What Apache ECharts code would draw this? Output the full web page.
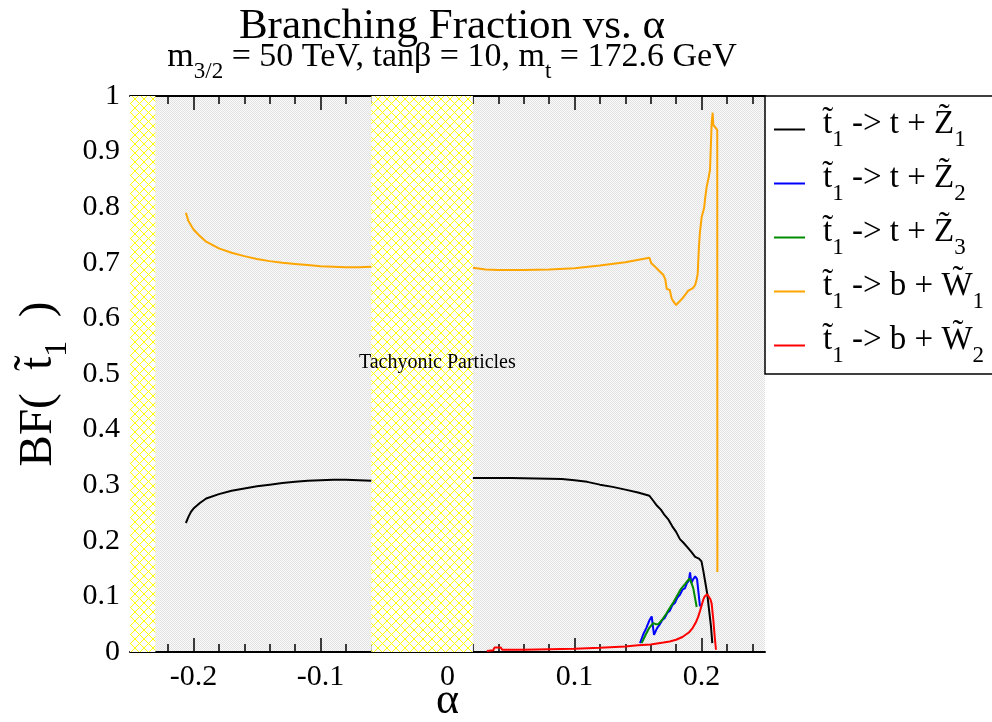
<!DOCTYPE html>
<html>
<head>
<meta charset="utf-8">
<script src="https://cdn.jsdelivr.net/npm/echarts@6/dist/echarts.min.js"></script>
<style>
  html, body { margin: 0; padding: 0; background: #ffffff; }
  #chart { width: 992px; height: 722px; }
</style>
</head>
<body>
<div id="chart"></div>
<script>
// ---- axis ticks ----
const xRange = [-0.25, 0.25];
const xMajorTicks = [-0.2, -0.1, 0, 0.1, 0.2];
const xMinorTicks = [-0.24, -0.22, -0.18, -0.16, -0.14, -0.12, -0.08, -0.06, -0.04, -0.02,
                     0.02, 0.04, 0.06, 0.08, 0.12, 0.14, 0.16, 0.18, 0.22, 0.24];

// ---- alpha ranges with tachyonic particles ----
const tachyonicBands = [[-0.25, -0.23], [-0.06, 0.02]];
const tachyonicLabel = { text: 'Tachyonic Particles', at: [-0.008, 0.52] };

// ---- legend labels: alternating [normal, subscript, normal, subscript] ----
const decayLabels = [
  ['t\u0303', '1', ' -> t + Z\u0303', '1'],
  ['t\u0303', '1', ' -> t + Z\u0303', '2'],
  ['t\u0303', '1', ' -> t + Z\u0303', '3'],
  ['t\u0303', '1', ' -> b + W\u0303', '1'],
  ['t\u0303', '1', ' -> b + W\u0303', '2']
];
const decayColors = ['#000000', '#0000ff', '#008b00', '#ffa500', '#ff0000'];

// ---- branching fractions [alpha, BF] ----
const tZ1Left = [
  [-0.206, 0.232], [-0.204, 0.243], [-0.202, 0.252], [-0.200, 0.258], [-0.195, 0.268],
  [-0.190, 0.276], [-0.180, 0.284], [-0.170, 0.290], [-0.160, 0.294], [-0.150, 0.298],
  [-0.140, 0.301], [-0.130, 0.304], [-0.120, 0.306], [-0.110, 0.308], [-0.100, 0.309],
  [-0.090, 0.310], [-0.080, 0.310], [-0.070, 0.309], [-0.060, 0.308]
];
const tZ1Right = [
  [0.020, 0.313], [0.030, 0.313], [0.050, 0.313], [0.070, 0.312], [0.090, 0.311],
  [0.100, 0.309], [0.110, 0.306], [0.120, 0.301], [0.130, 0.297], [0.140, 0.292],
  [0.150, 0.287], [0.159, 0.281], [0.162, 0.272], [0.165, 0.263], [0.168, 0.256],
  [0.171, 0.246], [0.174, 0.238], [0.177, 0.226], [0.180, 0.216], [0.183, 0.203],
  [0.186, 0.196], [0.189, 0.188], [0.192, 0.180], [0.195, 0.171], [0.198, 0.168],
  [0.200, 0.163], [0.2015, 0.145], [0.203, 0.125], [0.2045, 0.105], [0.206, 0.075],
  [0.2075, 0.045], [0.2085, 0.016]
];
const tZ2 = [
  [0.1516, 0.016], [0.154, 0.031], [0.1565, 0.043], [0.159, 0.057], [0.1608, 0.064],
  [0.1618, 0.045], [0.1626, 0.031], [0.165, 0.043], [0.167, 0.049], [0.169, 0.057],
  [0.171, 0.061], [0.173, 0.070], [0.175, 0.074], [0.177, 0.084], [0.179, 0.088],
  [0.181, 0.098], [0.183, 0.103], [0.185, 0.112], [0.187, 0.115], [0.1885, 0.124],
  [0.190, 0.128], [0.191, 0.143], [0.192, 0.124], [0.1935, 0.131], [0.195, 0.136],
  [0.1965, 0.131], [0.1975, 0.131], [0.1988, 0.082]
];
const tZ3 = [
  [0.1529, 0.016], [0.156, 0.031], [0.159, 0.044], [0.162, 0.052], [0.164, 0.050],
  [0.166, 0.050], [0.169, 0.058], [0.172, 0.068], [0.175, 0.079], [0.178, 0.090],
  [0.181, 0.102], [0.184, 0.114], [0.187, 0.122], [0.1904, 0.132], [0.1915, 0.128],
  [0.1922, 0.126], [0.1935, 0.115], [0.1962, 0.081]
];
const bW1Left = [
  [-0.206, 0.790], [-0.204, 0.775], [-0.200, 0.760], [-0.195, 0.748], [-0.190, 0.738],
  [-0.180, 0.726], [-0.170, 0.718], [-0.160, 0.712], [-0.150, 0.707], [-0.140, 0.703],
  [-0.130, 0.700], [-0.120, 0.698], [-0.110, 0.696], [-0.100, 0.694], [-0.090, 0.693],
  [-0.080, 0.692], [-0.070, 0.692], [-0.060, 0.693]
];
const bW1Right = [
  [0.020, 0.691], [0.030, 0.688], [0.040, 0.687], [0.060, 0.687], [0.080, 0.688],
  [0.100, 0.690], [0.120, 0.695], [0.140, 0.701], [0.159, 0.709], [0.1605, 0.699],
  [0.163, 0.694], [0.166, 0.687], [0.170, 0.678], [0.1715, 0.670], [0.1726, 0.653],
  [0.175, 0.651], [0.1765, 0.636], [0.178, 0.630], [0.180, 0.624], [0.181, 0.624],
  [0.185, 0.636], [0.1896, 0.650], [0.193, 0.654], [0.195, 0.660], [0.196, 0.668],
  [0.197, 0.680], [0.198, 0.730], [0.1988, 0.756], [0.2002, 0.783], [0.202, 0.798],
  [0.203, 0.818], [0.2041, 0.837], [0.2055, 0.852], [0.2067, 0.867], [0.208, 0.951],
  [0.2088, 0.970], [0.2093, 0.948], [0.2124, 0.939], [0.2125, 0.144]
];
const bW2 = [
  [0.031, 0.002], [0.036, 0.003], [0.037, 0.008], [0.042, 0.008], [0.043, 0.004],
  [0.060, 0.004], [0.080, 0.005], [0.100, 0.006], [0.120, 0.0075], [0.140, 0.010],
  [0.150, 0.012], [0.160, 0.0135], [0.170, 0.017], [0.175, 0.019], [0.180, 0.022],
  [0.185, 0.027], [0.190, 0.035], [0.193, 0.043], [0.1955, 0.053], [0.1975, 0.064],
  [0.199, 0.075], [0.2005, 0.087], [0.2014, 0.094], [0.2025, 0.100], [0.2035, 0.103],
  [0.2045, 0.104], [0.2057, 0.102], [0.207, 0.095], [0.208, 0.087], [0.2093, 0.058],
  [0.2105, 0.025], [0.2114, 0.004]
];

const FONT = '"Liberation Serif", "Times New Roman", serif';

// fine grey stipple used as the plot background
function stipple() {
  const c = document.createElement('canvas');
  c.width = 2; c.height = 2;
  const g = c.getContext('2d');
  g.fillStyle = '#fafafa'; g.fillRect(0, 0, 2, 2);
  g.fillStyle = '#e2e2e2'; g.fillRect(0, 0, 1, 1); g.fillRect(1, 1, 1, 1);
  return c;
}
// yellow cross-hatch used for the tachyonic regions
function crossHatch() {
  const n = 9;
  const c = document.createElement('canvas');
  c.width = n; c.height = n;
  const g = c.getContext('2d');
  g.fillStyle = '#ffffff'; g.fillRect(0, 0, n, n);
  g.strokeStyle = '#ffff00'; g.lineWidth = 1;
  g.beginPath();
  g.moveTo(0, 0); g.lineTo(n, n);
  g.moveTo(n, 0); g.lineTo(0, n);
  g.stroke();
  return c;
}

const names = decayLabels.map(p => p.join(''));
function richLabel(parts) {
  return parts.map((p, i) => (i % 2 === 0 ? '{m|' : '{s|') + p + '}').join('');
}

const chart = echarts.init(document.getElementById('chart'), null, { renderer: 'canvas' });

function lineSeries(idx, data) {
  return {
    type: 'line', name: names[idx], data: data,
    showSymbol: false, symbol: 'none', animation: false,
    lineStyle: { color: decayColors[idx], width: 2 },
    itemStyle: { color: decayColors[idx] },
    z: 3
  };
}

const axisLineStyle = { show: true, lineStyle: { color: '#000', width: 2 } };

chart.setOption({
  animation: false,
  backgroundColor: '#ffffff',
  title: {
    left: 447, top: 0, textAlign: 'center',
    text: '{a|Branching Fraction vs. α}',
    textStyle: { rich: { a: { fontFamily: FONT, fontSize: 43, fontWeight: 'normal', color: '#000' } } },
    subtext: '{m|m}{s|3/2}{m| = 50 TeV, tanβ = 10, m}{s|t}{m| = 172.6 GeV}',
    subtextStyle: { rich: {
      m: { fontFamily: FONT, fontSize: 34, color: '#000', padding: [0, 0, 9, 0], verticalAlign: 'bottom' },
      s: { fontFamily: FONT, fontSize: 23, color: '#000', verticalAlign: 'bottom' }
    } },
    itemGap: -8
  },
  legend: {
    data: names, orient: 'vertical',
    left: 765, top: 96,
    padding: [12, 300, 7, 9],
    itemWidth: 31, itemHeight: 2, itemGap: 11, icon: 'rect',
    backgroundColor: '#ffffff', borderColor: '#000', borderWidth: 1.5, borderRadius: 0,
    selectedMode: false,
    formatter: name => richLabel(decayLabels[names.indexOf(name)]),
    textStyle: { padding: [0, 0, 0, 13], rich: {
      m: { fontFamily: FONT, fontSize: 33, color: '#000', padding: [0, 0, 10, 0], verticalAlign: 'bottom' },
      s: { fontFamily: FONT, fontSize: 23, color: '#000', verticalAlign: 'bottom' }
    } }
  },
  grid: {
    left: 130, right: 227, top: 96, bottom: 70,
    show: true, backgroundColor: { image: stipple(), repeat: 'repeat' }, borderWidth: 0,
    outerBoundsMode: 'none'
  },
  xAxis: [
    { type: 'value', position: 'bottom', min: xRange[0], max: xRange[1],
      axisLine: axisLineStyle,
      axisTick: { show: true, inside: true, length: 14, customValues: xMajorTicks, lineStyle: { color: '#000', width: 1.5 } },
      axisLabel: { show: true, customValues: xMajorTicks, margin: 10, fontFamily: FONT, fontSize: 30, color: '#000' },
      splitLine: { show: false },
      name: 'α', nameLocation: 'middle', nameGap: 27, nameMoveOverlap: false,
      nameTextStyle: { fontFamily: FONT, fontSize: 44, color: '#000' } },
    { type: 'value', position: 'bottom', min: xRange[0], max: xRange[1],
      axisLine: { show: false },
      axisTick: { show: true, inside: true, length: 8, customValues: xMinorTicks, lineStyle: { color: '#000', width: 1.5 } },
      axisLabel: { show: false }, splitLine: { show: false } },
    { type: 'value', position: 'top', min: xRange[0], max: xRange[1],
      axisLine: axisLineStyle,
      axisTick: { show: true, inside: true, length: 14, customValues: xMajorTicks, lineStyle: { color: '#000', width: 1.5 } },
      axisLabel: { show: false }, splitLine: { show: false } },
    { type: 'value', position: 'top', min: xRange[0], max: xRange[1],
      axisLine: { show: false },
      axisTick: { show: true, inside: true, length: 8, customValues: xMinorTicks, lineStyle: { color: '#000', width: 1.5 } },
      axisLabel: { show: false }, splitLine: { show: false } }
  ],
  yAxis: [
    { type: 'value', position: 'left', min: 0, max: 1, interval: 0.1,
      axisLine: axisLineStyle,
      axisTick: { show: true, inside: true, length: 14, lineStyle: { color: '#000', width: 1.5 } },
      minorTick: { show: true, splitNumber: 2, length: 8, lineStyle: { color: '#000', width: 1.5 } },
      axisLabel: { margin: 10, fontFamily: FONT, fontSize: 30, color: '#000' },
      splitLine: { show: false },
      name: '{m|BF(  t\u0303}{s|1}{m|  )}', nameLocation: 'middle', nameRotate: 90,
      nameGap: 56, nameMoveOverlap: false,
      nameTextStyle: { padding: [0, 20, 0, 0], rich: {
        m: { fontFamily: FONT, fontSize: 47, color: '#000', padding: [0, 0, 12, 0], verticalAlign: 'bottom' },
        s: { fontFamily: FONT, fontSize: 32, color: '#000', verticalAlign: 'bottom' }
      } } },
    { type: 'value', position: 'right', min: 0, max: 1, interval: 0.1,
      axisLine: axisLineStyle,
      axisTick: { show: true, inside: true, length: 14, lineStyle: { color: '#000', width: 1.5 } },
      minorTick: { show: true, splitNumber: 2, length: 8, lineStyle: { color: '#000', width: 1.5 } },
      axisLabel: { show: false }, splitLine: { show: false } }
  ],
  series: [
    {
      type: 'line', name: 'tachyonic', data: [], silent: true, z: 1,
      markArea: {
        silent: true,
        itemStyle: { color: { image: crossHatch(), repeat: 'repeat' }, borderWidth: 0 },
        data: tachyonicBands.map(b => [{ xAxis: b[0], yAxis: 0 }, { xAxis: b[1], yAxis: 1 }])
      },
      markPoint: {
        silent: true, symbol: 'circle', symbolSize: 0,
        label: { show: true, position: 'inside', formatter: tachyonicLabel.text,
                 fontFamily: FONT, fontSize: 20, color: '#000' },
        data: [{ coord: tachyonicLabel.at }]
      }
    },
    lineSeries(0, tZ1Left),
    lineSeries(0, tZ1Right),
    lineSeries(1, tZ2),
    lineSeries(2, tZ3),
    lineSeries(3, bW1Left),
    lineSeries(3, bW1Right),
    lineSeries(4, bW2)
  ]
});
</script>
</body>
</html>
